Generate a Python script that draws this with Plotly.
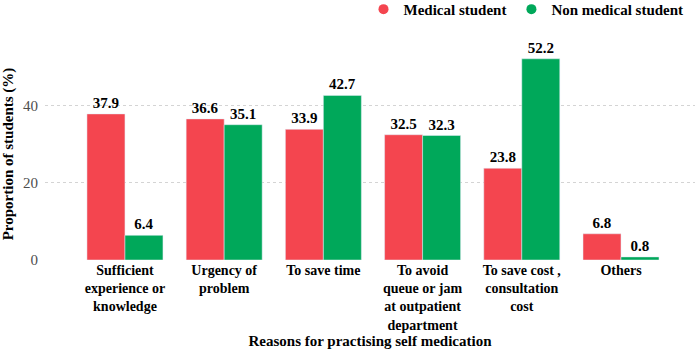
import plotly.graph_objects as go

categories = ["Sufficient experience or knowledge", "Urgency of problem", "To save time",
              "To avoid queue or jam at outpatient department",
              "To save cost , consultation cost", "Others"]
tick_labels = ["Sufficient<br>experience or<br>knowledge", "Urgency of<br>problem", "To save time",
               "To avoid<br>queue or jam<br>at outpatient<br>department",
               "To save cost ,<br>consultation<br>cost", "Others"]
series_names = ["Medical student", "Non medical student"]
medical = [37.9, 36.6, 33.9, 32.5, 23.8, 6.8]
non_medical = [6.4, 35.1, 42.7, 32.3, 52.2, 0.8]
y_ticks = [0, 20, 40]

RED = "#F4454F"
GREEN = "#00A85A"
FONT = "Liberation Serif"

fig = go.Figure()
for name, vals, col in zip(series_names, [medical, non_medical], [RED, GREEN]):
    fig.add_trace(go.Bar(x=categories, y=vals, name=name, marker_color=col,
                         text=[f"{v:.1f}" for v in vals], textposition="outside",
                         textfont=dict(family=FONT, size=15, color="black", weight="bold"),
                         cliponaxis=False, showlegend=False, legendgroup=name))
# circle legend entries
for name, col in zip(series_names, [RED, GREEN]):
    fig.add_trace(go.Scatter(x=[categories[0]], y=[None], mode="markers", name=name,
                             marker=dict(symbol="circle", size=10, color=col),
                             legendgroup=name, hoverinfo="skip"))

fig.update_layout(
    width=699, height=358,
    margin=dict(l=45, r=4, t=48, b=98, autoexpand=False),
    paper_bgcolor="white", plot_bgcolor="white",
    barmode="group", bargap=0.234, bargroupgap=0,
    font=dict(family=FONT, color="black"),
    showlegend=True,
    legend=dict(orientation="h", x=0.99, xanchor="right",
                y=1.26, yanchor="top",
                font=dict(family=FONT, size=15, color="black", weight="bold"),
                itemwidth=30, itemsizing="trace", traceorder="normal",
                bgcolor="rgba(0,0,0,0)"),
    xaxis=dict(type="category", categoryorder="array", categoryarray=categories,
               range=[-0.806, 5.746], tickvals=categories, ticktext=tick_labels,
               tickfont=dict(family=FONT, size=14, color="black", weight="bold"),
               showgrid=False, zeroline=False, showline=False, ticks="", automargin=False,
               title=dict(text="Reasons for practising self medication",
                          font=dict(family=FONT, size=15, color="black", weight="bold"),
                          standoff=0)),
    yaxis=dict(range=[0, 55], tickvals=y_ticks, showgrid=True, gridcolor="#d4d4d4",
               griddash="dot", gridwidth=1, zeroline=False, showline=False, ticks="",
               tickfont=dict(family=FONT, size=15, color="#4d4d4d"),
               ticklabelstandoff=6, automargin=False,
               title=dict(text="Proportion of students (%)",
                          font=dict(family=FONT, size=15, color="black", weight="bold"),
                          standoff=8)),
)

fig.write_html("out.html", config={"displayModeBar": False},
               post_script="document.body.style.margin='0px';")
